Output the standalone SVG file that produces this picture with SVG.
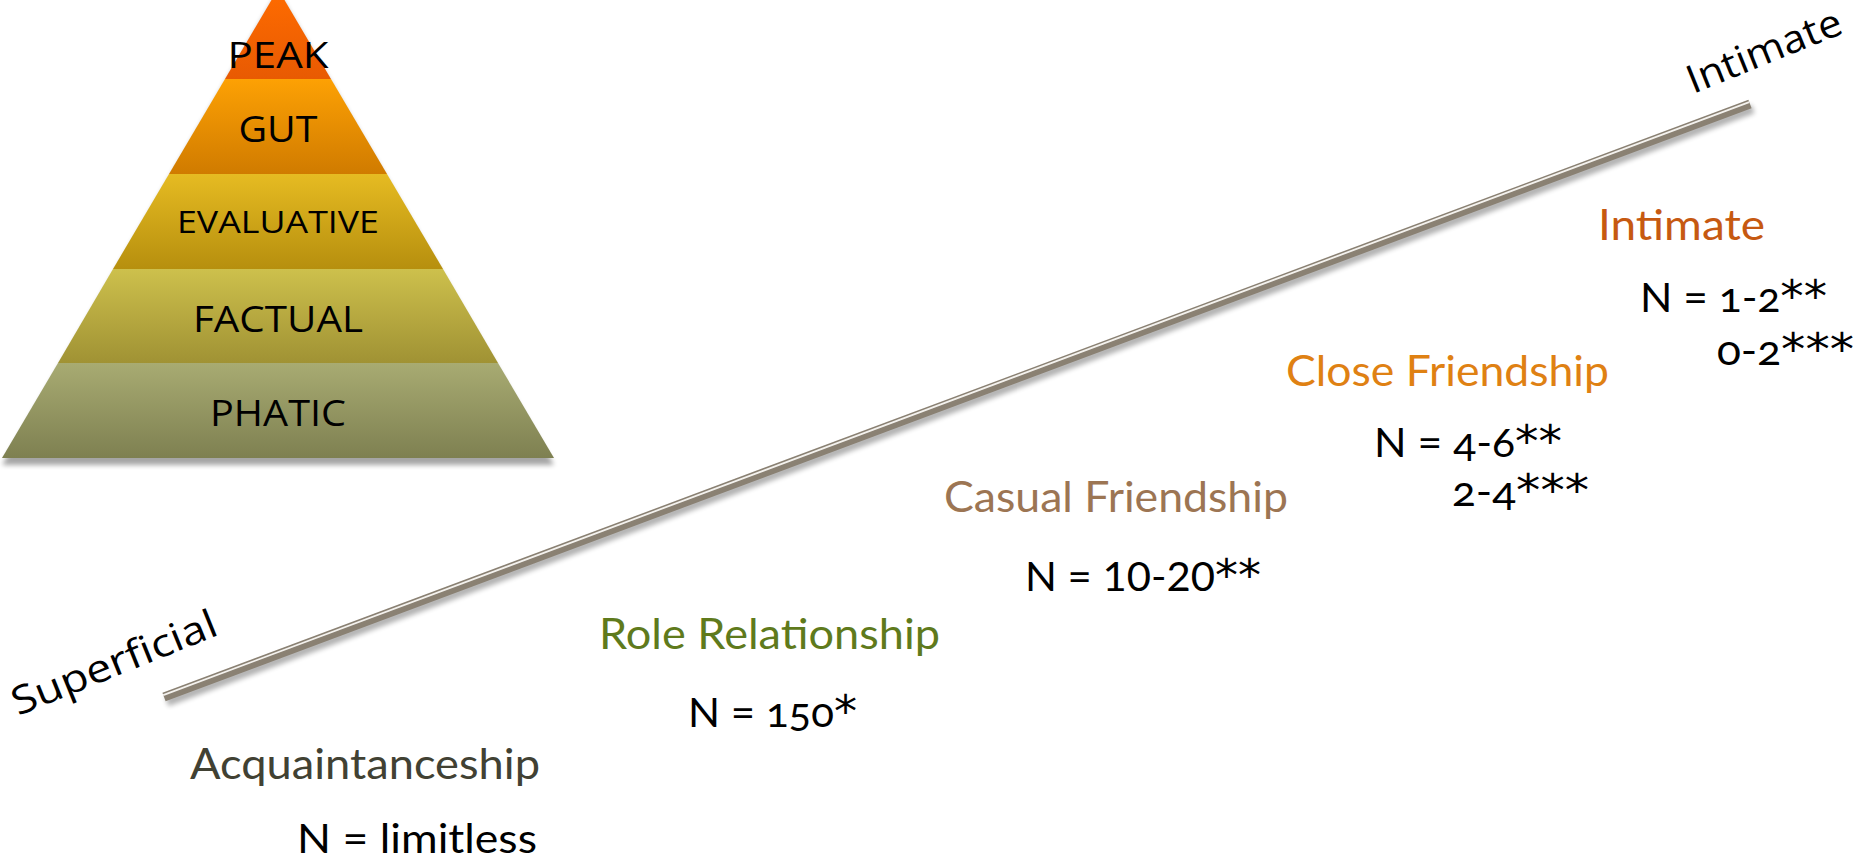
<svg xmlns="http://www.w3.org/2000/svg" width="1866" height="862" viewBox="0 0 1866 862">
<defs>
<linearGradient id="gPeak" x1="0" y1="0" x2="0" y2="1"><stop offset="0" stop-color="#FF6C00"/><stop offset="1" stop-color="#E85A02"/></linearGradient>
<linearGradient id="gGut" x1="0" y1="0" x2="0" y2="1"><stop offset="0" stop-color="#FDA104"/><stop offset="1" stop-color="#D07B00"/></linearGradient>
<linearGradient id="gEval" x1="0" y1="0" x2="0" y2="1"><stop offset="0" stop-color="#E6BB22"/><stop offset="1" stop-color="#B68F0E"/></linearGradient>
<linearGradient id="gFact" x1="0" y1="0" x2="0" y2="1"><stop offset="0" stop-color="#CDC04C"/><stop offset="1" stop-color="#A09234"/></linearGradient>
<linearGradient id="gPhat" x1="0" y1="0" x2="0" y2="1"><stop offset="0" stop-color="#A8AB72"/><stop offset="1" stop-color="#7E8051"/></linearGradient>
<filter id="shadow" x="-5%" y="-5%" width="110%" height="115%"><feGaussianBlur stdDeviation="2.5"/></filter>
</defs>
<style>
.pt{font-family:"Open Sans","DejaVu Sans",sans-serif;fill:#000;text-anchor:middle}
.lb{font-family:Lato,"Open Sans",sans-serif;font-size:42px}
.num{font-family:Lato,"Open Sans",sans-serif;font-size:40px;fill:#000}
.os{font-variant-numeric:oldstyle-nums;font-feature-settings:"onum" 1}
.ast{font-family:"DejaVu Sans",sans-serif;font-size:44px}
.axis{font-family:"Open Sans","DejaVu Sans",sans-serif;font-size:39px;fill:#000}
</style>
<rect width="1866" height="862" fill="#fff"/>
<g id="pyramid">
<polygon points="2,462 554,462 278,-11" fill="#000" opacity="0.35" filter="url(#shadow)" transform="translate(0,3)"/>
<g id="band-peak"><polygon points="278,-11 331,79 225,79" fill="url(#gPeak)"/><text class="pt" x="278" y="68" font-size="36" textLength="101" lengthAdjust="spacingAndGlyphs">PEAK</text></g>
<g id="band-gut"><polygon points="225,79 331,79 387,174 169,174" fill="url(#gGut)"/><text class="pt" x="278" y="142" font-size="36" textLength="79" lengthAdjust="spacingAndGlyphs">GUT</text></g>
<g id="band-evaluative"><polygon points="169,174 387,174 443,269 113,269" fill="url(#gEval)"/><text class="pt" x="278" y="233" font-size="31" textLength="202" lengthAdjust="spacingAndGlyphs">EVALUATIVE</text></g>
<g id="band-factual"><polygon points="113,269 443,269 498,363 58,363" fill="url(#gFact)"/><text class="pt" x="278" y="332" font-size="36" textLength="170" lengthAdjust="spacingAndGlyphs">FACTUAL</text></g>
<g id="band-phatic"><polygon points="58,363 498,363 554,458 2,458" fill="url(#gPhat)"/><text class="pt" x="278" y="426" font-size="36" textLength="136" lengthAdjust="spacingAndGlyphs">PHATIC</text></g>
</g>
<g id="connectors">
<line x1="167" y1="702" x2="1753" y2="109" stroke="#000" stroke-width="9" opacity="0.3" filter="url(#shadow)"/>
<line x1="164" y1="697" x2="1750" y2="104" stroke="#8A8173" stroke-width="9"/>
<line x1="163.2" y1="695.1" x2="1749.2" y2="102.1" stroke="#F4F2EE" stroke-width="1.8"/>
</g>
<g id="axis-superficial"><text class="axis" transform="translate(18,716) rotate(-22)" textLength="218" lengthAdjust="spacingAndGlyphs">Superficial</text></g>
<g id="axis-intimate"><text class="axis" transform="translate(1693,94) rotate(-22)" textLength="164" lengthAdjust="spacingAndGlyphs">Intimate</text></g>
<g id="node-acquaintanceship">
<text class="lb" x="190" y="779" fill="#414133" textLength="350" lengthAdjust="spacingAndGlyphs">Acquaintanceship</text>
<text class="num" x="297" y="853" textLength="240" lengthAdjust="spacingAndGlyphs">N = limitless</text>
</g>
<g id="node-role">
<text class="lb" x="599" y="649" fill="#5F7A1C" textLength="341" lengthAdjust="spacingAndGlyphs">Role Relationship</text>
<text class="num" x="688" y="727" textLength="169" lengthAdjust="spacingAndGlyphs">N = <tspan class="os">150</tspan><tspan class="ast">*</tspan></text>
</g>
<g id="node-casual">
<text class="lb" x="944" y="512" fill="#9C7553" textLength="344" lengthAdjust="spacingAndGlyphs">Casual Friendship</text>
<text class="num" x="1025" y="591" textLength="236" lengthAdjust="spacingAndGlyphs">N = 10-20<tspan class="ast">**</tspan></text>
</g>
<g id="node-close">
<text class="lb" x="1286" y="386" fill="#DF8113" textLength="323" lengthAdjust="spacingAndGlyphs">Close Friendship</text>
<text class="num" x="1374" y="457" textLength="188" lengthAdjust="spacingAndGlyphs">N = <tspan class="os">4-6</tspan><tspan class="ast">**</tspan></text>
<text class="num" x="1452" y="506" textLength="137" lengthAdjust="spacingAndGlyphs"><tspan class="os">2-4</tspan><tspan class="ast">***</tspan></text>
</g>
<g id="node-intimate">
<text class="lb" x="1598" y="240" fill="#C65911" textLength="167" lengthAdjust="spacingAndGlyphs">Intimate</text>
<text class="num" x="1640" y="312" textLength="187" lengthAdjust="spacingAndGlyphs">N = <tspan class="os">1-2</tspan><tspan class="ast">**</tspan></text>
<text class="num" x="1717" y="365" textLength="137" lengthAdjust="spacingAndGlyphs"><tspan class="os">0-2</tspan><tspan class="ast">***</tspan></text>
</g>
</svg>
